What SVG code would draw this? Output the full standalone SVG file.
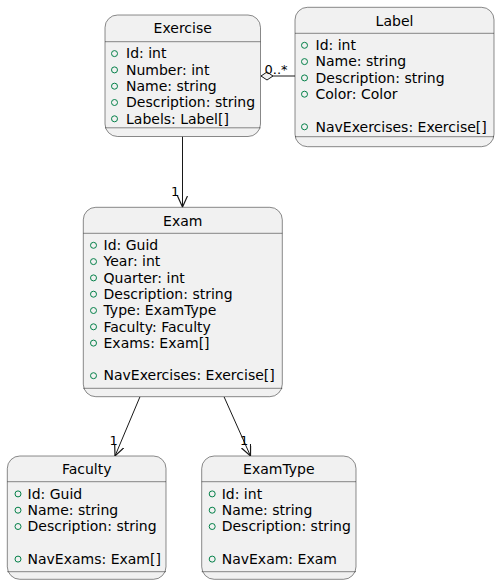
<svg xmlns="http://www.w3.org/2000/svg" width="500" height="585" viewBox="0 0 500 585">
<style>
.box{fill:#F1F1F1;stroke:#181818;stroke-width:0.5}
.sep{stroke:#181818;stroke-width:0.5}
.t{font-family:"DejaVu Sans",sans-serif;font-size:14px;fill:#000}
.title{text-anchor:middle}
.dot{fill:none;stroke:#038048;stroke-width:1}
.edge{fill:none;stroke:#181818;stroke-width:1}
.lbl{font-family:"DejaVu Sans",sans-serif;font-size:13px;fill:#000}
</style>
<defs>
<marker id="arr" markerUnits="userSpaceOnUse" markerWidth="14" markerHeight="12" refX="11" refY="5" orient="auto">
<path d="M0,0 L11,5 L0,10" fill="none" stroke="#181818" stroke-width="1.2"/>
</marker>
<marker id="dia" markerUnits="userSpaceOnUse" markerWidth="14" markerHeight="10" refX="13" refY="4.5" orient="auto">
<path d="M1,4.5 L7,0.5 L13,4.5 L7,8.5 Z" fill="#F1F1F1" stroke="#181818" stroke-width="1"/>
</marker>
</defs>

<g id="connectors">
<path class="edge" d="M295,76 L261,76" marker-end="url(#dia)"/>
<text class="lbl" x="264.5" y="73.5">0..*</text>
<path class="edge" d="M182.5,136.5 L182.5,207" marker-end="url(#arr)"/>
<text class="lbl" x="171" y="196">1</text>
<path class="edge" d="M140,396.7 L115,456" marker-end="url(#arr)"/>
<text class="lbl" x="109.5" y="445">1</text>
<path class="edge" d="M224,396.7 L250.5,456" marker-end="url(#arr)"/>
<text class="lbl" x="240" y="445">1</text>
</g>

<g id="Exercise">
<rect class="box" x="105" y="15" width="155.5" height="121.5" rx="12.5"/>
<text class="t title" x="182.7" y="33.3">Exercise</text>
<line class="sep" x1="105" y1="41.7" x2="260.5" y2="41.7"/>
<circle class="dot" cx="114.5" cy="53.6" r="3"/><text class="t" x="126" y="58.3">Id: int</text>
<circle class="dot" cx="114.5" cy="69.9" r="3"/><text class="t" x="126" y="74.6">Number: int</text>
<circle class="dot" cx="114.5" cy="86.2" r="3"/><text class="t" x="126" y="90.9">Name: string</text>
<circle class="dot" cx="114.5" cy="102.5" r="3"/><text class="t" x="126" y="107.2">Description: string</text>
<circle class="dot" cx="114.5" cy="118.8" r="3"/><text class="t" x="126" y="123.5">Labels: Label[]</text>
<line class="sep" x1="105" y1="127.8" x2="260.5" y2="127.8"/>
</g>

<g id="Label">
<rect class="box" x="295" y="7.3" width="199" height="139.4" rx="12.5"/>
<text class="t title" x="394.5" y="25.6">Label</text>
<line class="sep" x1="295" y1="33.3" x2="494" y2="33.3"/>
<circle class="dot" cx="304.5" cy="45.3" r="3"/><text class="t" x="315.5" y="50">Id: int</text>
<circle class="dot" cx="304.5" cy="61.6" r="3"/><text class="t" x="315.5" y="66.3">Name: string</text>
<circle class="dot" cx="304.5" cy="77.9" r="3"/><text class="t" x="315.5" y="82.6">Description: string</text>
<circle class="dot" cx="304.5" cy="94.2" r="3"/><text class="t" x="315.5" y="98.9">Color: Color</text>
<circle class="dot" cx="304.5" cy="126.8" r="3"/><text class="t" x="315.5" y="131.5">NavExercises: Exercise[]</text>
<line class="sep" x1="295" y1="136.7" x2="494" y2="136.7"/>
</g>

<g id="Exam">
<rect class="box" x="83.3" y="207.3" width="199" height="189.4" rx="12.5"/>
<text class="t title" x="182.8" y="225.6">Exam</text>
<line class="sep" x1="83.3" y1="233.3" x2="282.3" y2="233.3"/>
<circle class="dot" cx="93.5" cy="245.3" r="3"/><text class="t" x="103.5" y="250">Id: Guid</text>
<circle class="dot" cx="93.5" cy="261.6" r="3"/><text class="t" x="103.5" y="266.3">Year: int</text>
<circle class="dot" cx="93.5" cy="277.9" r="3"/><text class="t" x="103.5" y="282.6">Quarter: int</text>
<circle class="dot" cx="93.5" cy="294.2" r="3"/><text class="t" x="103.5" y="298.9">Description: string</text>
<circle class="dot" cx="93.5" cy="310.5" r="3"/><text class="t" x="103.5" y="315.2">Type: ExamType</text>
<circle class="dot" cx="93.5" cy="326.8" r="3"/><text class="t" x="103.5" y="331.5">Faculty: Faculty</text>
<circle class="dot" cx="93.5" cy="343.1" r="3"/><text class="t" x="103.5" y="347.8">Exams: Exam[]</text>
<circle class="dot" cx="93.5" cy="375.7" r="3"/><text class="t" x="103.5" y="380.4">NavExercises: Exercise[]</text>
<line class="sep" x1="83.3" y1="388.3" x2="282.3" y2="388.3"/>
</g>

<g id="Faculty">
<rect class="box" x="7.3" y="456" width="158.7" height="123.3" rx="12.5"/>
<text class="t title" x="86.7" y="474.3">Faculty</text>
<line class="sep" x1="7.3" y1="481.7" x2="166" y2="481.7"/>
<circle class="dot" cx="18" cy="493.9" r="3"/><text class="t" x="27.5" y="498.6">Id: Guid</text>
<circle class="dot" cx="18" cy="510.2" r="3"/><text class="t" x="27.5" y="514.9">Name: string</text>
<circle class="dot" cx="18" cy="526.5" r="3"/><text class="t" x="27.5" y="531.2">Description: string</text>
<circle class="dot" cx="18" cy="559.1" r="3"/><text class="t" x="27.5" y="563.8">NavExams: Exam[]</text>
<line class="sep" x1="7.3" y1="571.7" x2="166" y2="571.7"/>
</g>

<g id="ExamType">
<rect class="box" x="201.7" y="456" width="154.3" height="123.3" rx="12.5"/>
<text class="t title" x="278.8" y="474.3">ExamType</text>
<line class="sep" x1="201.7" y1="481.7" x2="356" y2="481.7"/>
<circle class="dot" cx="212.2" cy="493.9" r="3"/><text class="t" x="221.7" y="498.6">Id: int</text>
<circle class="dot" cx="212.2" cy="510.2" r="3"/><text class="t" x="221.7" y="514.9">Name: string</text>
<circle class="dot" cx="212.2" cy="526.5" r="3"/><text class="t" x="221.7" y="531.2">Description: string</text>
<circle class="dot" cx="212.2" cy="559.1" r="3"/><text class="t" x="221.7" y="563.8">NavExam: Exam</text>
<line class="sep" x1="201.7" y1="571.7" x2="356" y2="571.7"/>
</g>
</svg>
